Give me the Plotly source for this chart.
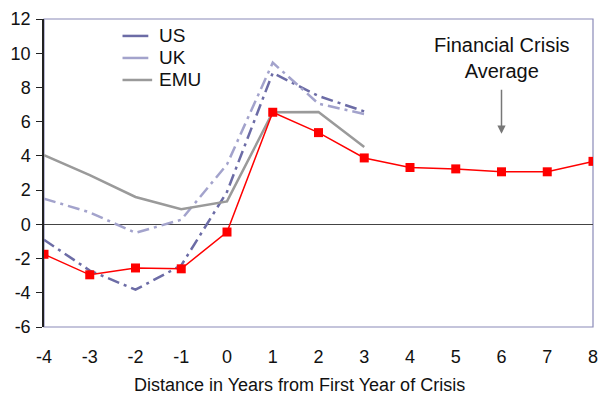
import plotly.graph_objects as go

# Years relative to the first year of a financial crisis
years = [-4, -3, -2, -1, 0, 1, 2, 3, 4, 5, 6, 7, 8]
years_short = [-4, -3, -2, -1, 0, 1, 2, 3]

crisis_avg = [-1.75, -2.95, -2.55, -2.6, -0.45, 6.55, 5.36, 3.88, 3.32, 3.24, 3.07, 3.07, 3.68]
us = [-0.9, -2.7, -3.82, -2.4, 1.9, 8.85, 7.5, 6.6]
uk = [1.5, 0.7, -0.5, 0.27, 3.5, 9.45, 7.05, 6.45]
emu = [4.04, 2.87, 1.6, 0.88, 1.34, 6.55, 6.57, 4.52]

x_ticks = list(range(-4, 9))
x_labels = [str(v) for v in x_ticks]
y_ticks = list(range(-6, 13, 2))
y_labels = [str(v) for v in y_ticks]

FONT = "Liberation Sans, Arial, sans-serif"

series = [
    ("US", us, "#6c6ca6", "12px,5px,3px,5px"),
    ("UK", uk, "#a3a3cc", "12px,5px,3px,5px"),
    ("EMU", emu, "#9a9a9a", "solid"),
]

fig = go.Figure()

for name, vals, color, dash in series:
    fig.add_trace(go.Scatter(
        x=years_short, y=vals, name=name, mode="lines",
        line=dict(color=color, width=2.5, dash=dash),
        showlegend=False,
    ))

fig.add_trace(go.Scatter(
    x=years, y=crisis_avg, name="Financial Crisis Average", mode="lines+markers",
    line=dict(color="#ff0000", width=1.5),
    marker=dict(symbol="square", size=9, color="#ff0000"),
    showlegend=False,
))

# plot frame
fig.add_shape(type="rect", xref="paper", yref="paper", x0=0, x1=1, y0=0, y1=1,
              line=dict(color="#8a8ab8", width=1.2), layer="below")

# legend: short sample line followed by the series name
legend_top = 0.945
legend_step = 0.0715
for i, (name, vals, color, dash) in enumerate(series):
    yy = legend_top - i * legend_step
    fig.add_shape(type="line", xref="paper", yref="paper",
                  x0=0.143, x1=0.197 if name == "EMU" else 0.19, y0=yy, y1=yy,
                  line=dict(color=color, width=2.5))
    fig.add_annotation(x=0.206, y=yy, xref="paper", yref="paper",
                       text=name, showarrow=False, xanchor="left", yanchor="middle",
                       font=dict(family=FONT, size=19, color="#111111"))

fig.add_annotation(
    x=6, y=9.7, text="Financial Crisis<br>Average", showarrow=False,
    font=dict(family=FONT, size=20, color="#111111"),
)
fig.add_annotation(
    x=6, y=5.3, ax=6, ay=7.95, xref="x", yref="y", axref="x", ayref="y",
    text="", showarrow=True, arrowhead=2, arrowsize=1.1, arrowwidth=1.5,
    arrowcolor="#777777",
)

# axis title, centred on the chart area
fig.add_annotation(
    x=0.465, y=-0.15, xref="paper", yref="paper", xanchor="center", yanchor="top",
    text="Distance in Years from First Year of Crisis", showarrow=False,
    font=dict(family=FONT, size=18, color="#111111"),
)

fig.update_layout(
    width=605, height=398,
    margin=dict(l=44, r=7, t=19, b=71),
    paper_bgcolor="white", plot_bgcolor="white",
    font=dict(family=FONT, size=18, color="#111111"),
    showlegend=False,
    xaxis=dict(
        range=[-4, 8], tickvals=x_ticks, ticktext=x_labels,
        showgrid=False, zeroline=False,
        showline=False, ticks="", ticklabelstandoff=17,
    ),
    yaxis=dict(
        range=[-6, 12], tickvals=y_ticks, ticktext=y_labels, showgrid=False,
        zeroline=True, zerolinecolor="#444444", zerolinewidth=1.2,
        showline=True, linecolor="#222222", linewidth=1.5,
        ticks="outside", ticklen=6, tickcolor="#222222", tickwidth=1.2,
        ticklabelstandoff=2,
    ),
)

fig.write_html("out.html")
